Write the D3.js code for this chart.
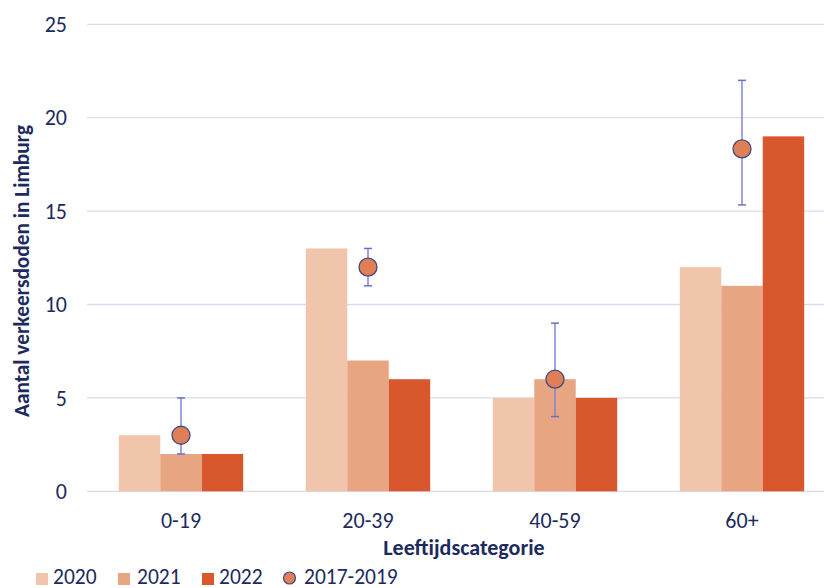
<!DOCTYPE html>
<html><head><meta charset="utf-8">
<script src="https://cdn.jsdelivr.net/npm/d3@7"></script>
<style>
html,body{margin:0;padding:0;background:#fff;}
svg{display:block;font-family:Carlito,Lato,"Open Sans",sans-serif;}
</style></head>
<body><div id="chart"></div>
<script>
const categories = ["0-19","20-39","40-59","60+"];
const seriesNames = ["2020","2021","2022"];
const values2020 = [3,13,5,12];
const values2021 = [2,7,6,11];
const values2022 = [2,6,5,19];
const avgName = "2017-2019";
const avg = [3,12,6,18.33];
const avgLow = [2,11,4,15.33];
const avgHigh = [5,13,9,22];
const yTicks = [0,5,10,15,20,25];
const yTitle = "Aantal verkeersdoden in Limburg";
const xTitle = "Leeftijdscategorie";

const W=824,H=588;
const colors = ["#F0C5AB","#E8A581","#D9572C"];
const textCol = "#1C2A5E";
const fs = 22;
const svg = d3.select("#chart").append("svg").attr("width",W).attr("height",H);

const x = d3.scaleBand().domain(categories).range([87.5,835.5]).paddingInner(0.335).paddingOuter(0.1675);
const xs = d3.scaleBand().domain(seriesNames).range([0,x.bandwidth()]);
const y = d3.scaleLinear().domain([0,25]).range([491.3,24.3]);

// gridlines
svg.append("g").selectAll("line").data(yTicks).join("line")
  .attr("x1",87).attr("x2",W).attr("y1",d=>y(d)).attr("y2",d=>y(d))
  .attr("stroke","#D9D9EF").attr("stroke-width",1.3);

// y tick labels
svg.append("g").selectAll("text").data(yTicks).join("text")
  .attr("x",67).attr("y",d=>y(d)).attr("dy","0.35em").attr("text-anchor","end")
  .attr("fill",textCol).attr("font-size",fs).text(d=>d);

// bars
const allSeries=[values2020,values2021,values2022];
allSeries.forEach((vals,si)=>{
  svg.append("g").selectAll("rect").data(categories).join("rect")
    .attr("x",c=>x(c)+xs(seriesNames[si]))
    .attr("width",xs.bandwidth())
    .attr("y",(c,i)=>y(vals[i]))
    .attr("height",(c,i)=>y(0)-y(vals[i]))
    .attr("fill",colors[si]);
});

// error bars + dots
const cx = c=>x(c)+x.bandwidth()/2;
const eb = svg.append("g");
categories.forEach((c,i)=>{
  eb.append("line").attr("x1",cx(c)).attr("x2",cx(c)).attr("y1",y(avgLow[i])).attr("y2",y(avgHigh[i]))
    .attr("stroke","#7F86D8").attr("stroke-width",1.5);
  [avgLow[i],avgHigh[i]].forEach(v=>{
    eb.append("line").attr("x1",cx(c)-4).attr("x2",cx(c)+4).attr("y1",y(v)).attr("y2",y(v))
      .attr("stroke","#6A70C8").attr("stroke-width",1.5);
  });
  eb.append("circle").attr("cx",cx(c)).attr("cy",y(avg[i])).attr("r",9)
    .attr("fill","#E07E55").attr("stroke","#414A80").attr("stroke-width",1.3);
});

// x tick labels
svg.append("g").selectAll("text").data(categories).join("text")
  .attr("x",cx).attr("y",528).attr("text-anchor","middle")
  .attr("fill",textCol).attr("font-size",fs).text(d=>d);

// axis titles
svg.append("text").attr("x",464).attr("y",555).attr("text-anchor","middle")
  .attr("fill",textCol).attr("font-size",fs).attr("font-weight","bold").text(xTitle);
svg.append("text").attr("transform","translate(28.5,271) rotate(-90)").attr("text-anchor","middle")
  .attr("fill",textCol).attr("font-size",21.3).attr("font-weight","bold").text(yTitle);

// legend
const leg = svg.append("g");
const legX=[36,118,202];
const legTX=[53,137,219];
seriesNames.forEach((n,i)=>{
  leg.append("rect").attr("x",legX[i]).attr("y",573).attr("width",12).attr("height",12).attr("fill",colors[i]);
  leg.append("text").attr("x",legTX[i]).attr("y",583.5).attr("fill",textCol).attr("font-size",21.5).text(n);
});
leg.append("circle").attr("cx",289.5).attr("cy",578).attr("r",6).attr("fill","#E07E55").attr("stroke","#414A80").attr("stroke-width",1.2);
leg.append("text").attr("x",304).attr("y",583.5).attr("fill",textCol).attr("font-size",21.5).text(avgName);
</script></body></html>
